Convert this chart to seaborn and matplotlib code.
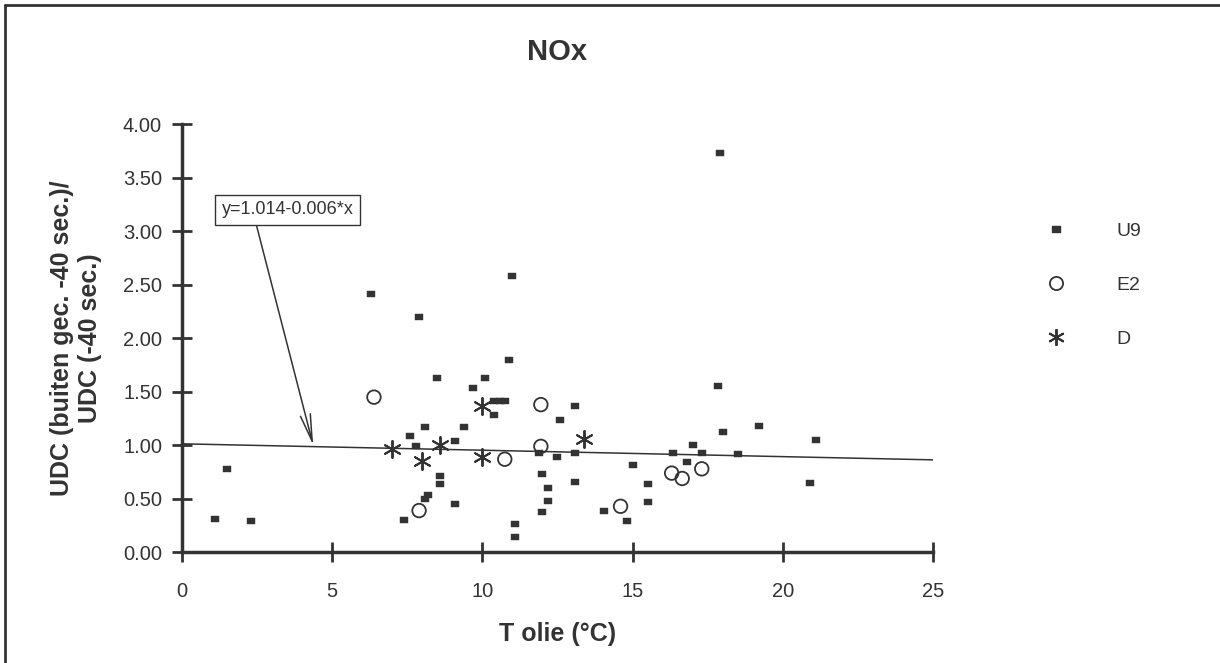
import numpy as np
import pandas as pd
import seaborn as sns
import matplotlib.pyplot as plt
from matplotlib.lines import Line2D
from matplotlib.path import Path

# U9 measurements
u9_x = [1.1, 1.5, 2.3, 6.3, 7.9, 11.0, 10.9, 8.5, 10.1, 9.7,
        10.4, 10.6, 10.75, 10.4, 8.1, 9.4, 7.6, 7.8, 9.1,
        8.6, 8.6, 8.2, 8.1, 9.1, 7.4, 11.1, 11.1,
        11.9, 12.5, 12.6, 12.0, 12.2, 12.2, 12.0,
        13.1, 13.1, 13.1, 14.05, 14.8, 15.0, 15.5, 15.5,
        16.35, 17.0, 17.3, 16.8, 17.85, 18.0, 18.5,
        17.9, 19.2, 21.1, 20.9]
u9_y = [0.31, 0.78, 0.29, 2.41, 2.20, 2.58, 1.80, 1.63, 1.63, 1.54,
        1.41, 1.41, 1.41, 1.28, 1.17, 1.17, 1.09, 0.99, 1.04,
        0.71, 0.64, 0.54, 0.50, 0.45, 0.30, 0.26, 0.14,
        0.93, 0.89, 1.24, 0.73, 0.60, 0.48, 0.38,
        1.37, 0.93, 0.66, 0.39, 0.29, 0.82, 0.64, 0.47,
        0.93, 1.00, 0.93, 0.84, 1.55, 1.12, 0.92,
        3.73, 1.18, 1.05, 0.65]

# E2 measurements
e2_x = [6.4, 11.95, 11.95, 10.75, 7.9, 14.6, 16.3, 16.65, 17.3]
e2_y = [1.45, 1.38, 0.99, 0.87, 0.39, 0.43, 0.74, 0.69, 0.78]

# D measurements
d_x = [7.0, 8.0, 8.6, 10.0, 10.0, 13.4]
d_y = [0.97, 0.85, 1.00, 1.37, 0.89, 1.06]

# regression line y = a + b*x
fit_a = 1.014
fit_b = -0.006
fit_label = 'y=1.014-0.006*x'

x_ticks = [0, 5, 10, 15, 20, 25]
y_ticks = [0.0, 0.5, 1.0, 1.5, 2.0, 2.5, 3.0, 3.5, 4.0]

ink = '#333333'

sns.set_style('white')
plt.rcParams['font.family'] = ['Liberation Sans', 'DejaVu Sans']
plt.rcParams['text.color'] = ink
plt.rcParams['axes.labelcolor'] = ink
plt.rcParams['xtick.color'] = ink
plt.rcParams['ytick.color'] = ink

df_u9 = pd.DataFrame({'x': u9_x, 'y': u9_y})
df_e2 = pd.DataFrame({'x': e2_x, 'y': e2_y})
df_d = pd.DataFrame({'x': d_x, 'y': d_y})
fit_x = [x_ticks[0], x_ticks[-1]]
df_fit = pd.DataFrame({'x': fit_x, 'y': [fit_a + fit_b * v for v in fit_x]})

rect_marker = Path([(-1, -0.6), (1, -0.6), (1, 0.6), (-1, 0.6), (-1, -0.6)],
                   [Path.MOVETO, Path.LINETO, Path.LINETO, Path.LINETO, Path.CLOSEPOLY])

fig = plt.figure(figsize=(12.2, 6.63), dpi=100)
ax = fig.add_axes([181.5 / 1220, 1 - 552.3 / 663, (933.3 - 181.5) / 1220, (552.3 - 124.3) / 663])

sns.lineplot(data=df_fit, x='x', y='y', ax=ax, color=ink, linewidth=1.1)
sns.scatterplot(data=df_u9, x='x', y='y', ax=ax, marker=rect_marker, s=40,
                color=ink, edgecolor=ink, linewidth=0.3)
sns.scatterplot(data=df_e2, x='x', y='y', ax=ax, marker='o', s=95,
                facecolor='none', edgecolor=ink, linewidth=1.3)
ax.scatter(df_d['x'], df_d['y'], marker=(6, 2, 0), s=150, color=ink, linewidth=1.4)

ax.set_xlim(0, 25)
ax.set_ylim(0, 4)
ax.set_xticks(x_ticks)
ax.set_yticks(y_ticks)
ax.set_yticklabels([f'{v:.2f}' for v in y_ticks])
ax.tick_params(bottom=True, left=True, direction='inout', length=14, width=2, labelsize=14.5)
ax.tick_params(axis='x', pad=14.5)
ax.tick_params(axis='y', pad=7)

sns.despine(ax=ax)
for side in ['left', 'bottom']:
    ax.spines[side].set_linewidth(2.5)
    ax.spines[side].set_color(ink)

ax.set_title('NOx', fontsize=21, fontweight='bold', pad=46)
ax.set_xlabel('T olie (°C)', fontsize=18, fontweight='bold', labelpad=15)
ax.set_ylabel('UDC (buiten gec. -40 sec.)/\nUDC (-40 sec.)', fontsize=18, fontweight='bold')
ax.yaxis.set_label_coords(-(181.5 - 102) / 751.8, 0.5)

ax.annotate(fit_label, xy=(4.38, 1.0), xytext=(3.53, 3.20), fontsize=13,
            ha='center', va='center',
            bbox=dict(boxstyle='square,pad=0.35', fc='white', ec=ink, lw=1),
            arrowprops=dict(arrowstyle='->,head_length=1.5,head_width=0.28', color=ink,
                            lw=1.1, relpos=(0.25, 0), shrinkA=0, shrinkB=0))

handles = [
    Line2D([], [], linestyle='none', marker=rect_marker, markersize=6.3, color=ink),
    Line2D([], [], linestyle='none', marker='o', markersize=9.5, markerfacecolor='none',
           markeredgecolor=ink, markeredgewidth=1.3),
    Line2D([], [], linestyle='none', marker=(6, 2, 0), markersize=12, color=ink,
           markeredgewidth=1.4),
]
fig.legend(handles, ['U9', 'E2', 'D'], loc='upper left', bbox_to_anchor=(1046 / 1220, 1 - 222 / 663),
           frameon=False, fontsize=14, handlelength=1, handletextpad=2.6, labelspacing=1.88,
           borderpad=0, borderaxespad=0)

# scanned page frame (top and left edges)
fig.add_artist(Line2D([5 / 1220, 5 / 1220], [0, 1 - 5 / 663], color=ink, lw=2))
fig.add_artist(Line2D([5 / 1220, 1], [1 - 5 / 663, 1 - 5 / 663], color=ink, lw=2))

fig.savefig('out.png', dpi=100)
